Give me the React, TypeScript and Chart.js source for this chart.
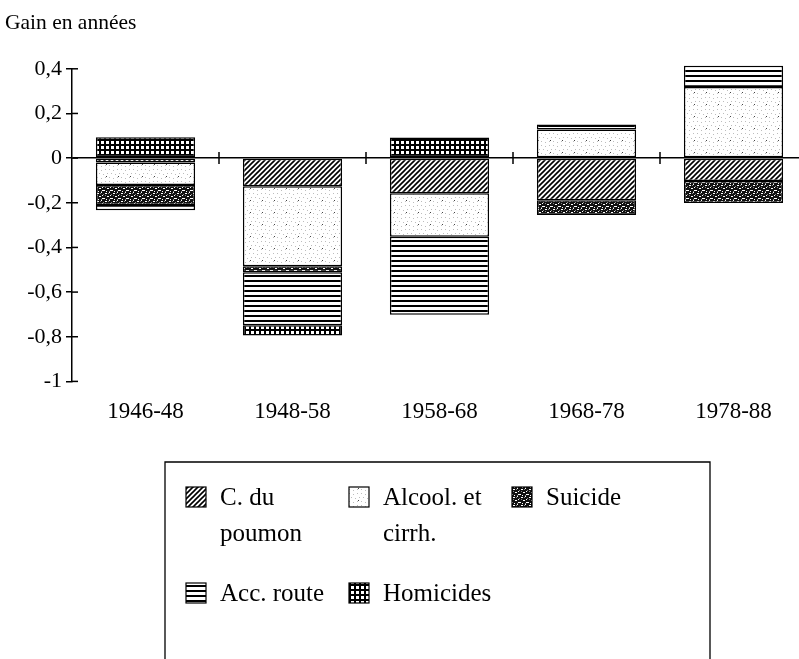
import React, { useEffect, useRef } from 'react';
import { Chart, registerables } from 'chart.js';

Chart.register(...registerables);

const chartTitle = 'Gain en années';
const categories = ['1946-48', '1948-58', '1958-68', '1968-78', '1978-88'];
const seriesNames = ['C. du poumon', 'Alcool. et cirrh.', 'Suicide', 'Acc. route', 'Homicides'];
const legendLines = [['C. du', 'poumon'], ['Alcool. et', 'cirrh.'], ['Suicide'], ['Acc. route'], ['Homicides']];

const cPoumon = [-0.02, -0.126, -0.157, -0.189, -0.103];
const alcool = [-0.1, -0.358, -0.195, 0.128, 0.319];
const suicide = [-0.09, -0.027, null, -0.066, -0.098];
const accRoute = [-0.024, -0.238, -0.35, 0.023, 0.095];
const homicides = [0.093, -0.045, 0.092, null, null];

const yTickValues = [0.4, 0.2, 0, -0.2, -0.4, -0.6, -0.8, -1];
const yTickLabels = ['0,4', '0,2', '0', '-0,2', '-0,4', '-0,6', '-0,8', '-1'];

const FONT = '"Liberation Serif", "Times New Roman", serif';

function tile(w: number, h: number, draw: (c: CanvasRenderingContext2D) => void) {
  const cv = document.createElement('canvas');
  cv.width = w;
  cv.height = h;
  const c = cv.getContext('2d')!;
  draw(c);
  return cv;
}

function makePatterns(ctx: CanvasRenderingContext2D) {
  const hatch = tile(5, 5, (c) => {
    c.fillStyle = '#fff';
    c.fillRect(0, 0, 5, 5);
    c.strokeStyle = '#000';
    c.lineWidth = 1.6;
    c.beginPath();
    c.moveTo(-1, 6); c.lineTo(6, -1);
    c.moveTo(-1, 1); c.lineTo(1, -1);
    c.moveTo(4, 6); c.lineTo(6, 4);
    c.stroke();
  });
  const dots = tile(12, 12, (c) => {
    c.fillStyle = '#fff';
    c.fillRect(0, 0, 12, 12);
    c.fillStyle = '#bdbdbd';
    const pts = [[1, 1], [5, 2], [9, 1], [3, 5], [7, 6], [11, 5], [1, 9], [5, 10], [9, 9]];
    pts.forEach(([x, y]) => c.fillRect(x, y, 1, 1));
    c.fillStyle = '#444';
    c.fillRect(10, 8, 1, 1);
  });
  const speckle = tile(8, 8, (c) => {
    c.fillStyle = '#111';
    c.fillRect(0, 0, 8, 8);
    c.fillStyle = '#fff';
    const pts = [[1, 1], [2, 1], [5, 0], [6, 3], [3, 4], [4, 4], [0, 6], [6, 6], [7, 6], [2, 7]];
    pts.forEach(([x, y]) => c.fillRect(x, y, 1, 1));
    c.fillStyle = '#888';
    [[4, 1], [1, 3], [7, 2], [5, 7]].forEach(([x, y]) => c.fillRect(x, y, 1, 1));
  });
  const hlines = tile(4, 5, (c) => {
    c.fillStyle = '#fff';
    c.fillRect(0, 0, 4, 5);
    c.fillStyle = '#000';
    c.fillRect(0, 0, 4, 2);
  });
  const grid = tile(5, 5, (c) => {
    c.fillStyle = '#000';
    c.fillRect(0, 0, 5, 5);
    c.fillStyle = '#fff';
    c.fillRect(1, 1, 3, 3);
  });
  return [hatch, dots, speckle, hlines, grid].map((t) => ctx.createPattern(t, 'repeat')!);
}

const legendPos = [
  { x: 186, y: 487 },
  { x: 349, y: 487 },
  { x: 512, y: 487 },
  { x: 186, y: 583 },
  { x: 349, y: 583 },
];

export default function App() {
  const ref = useRef<HTMLCanvasElement | null>(null);

  useEffect(() => {
    const canvas = ref.current;
    if (!canvas) return;
    const ctx = canvas.getContext('2d')!;
    const patterns = makePatterns(ctx);
    const values = [cPoumon, alcool, suicide, accRoute, homicides];

    const decor = {
      id: 'decor',
      afterDraw(chart: any) {
        const { ctx: c, scales, chartArea } = chart;
        const x = scales.x;
        const y = scales.y;
        c.save();
        c.strokeStyle = '#000';
        c.lineWidth = 1.5;
        y.ticks.forEach((_t: any, i: number) => {
          const py = y.getPixelForTick(i);
          c.beginPath();
          c.moveTo(chartArea.left, py);
          c.lineTo(chartArea.left + 6, py);
          c.stroke();
        });
        const zy = y.getPixelForValue(0);
        for (let i = 1; i <= categories.length; i++) {
          const px = x.getPixelForValue(i - 0.5);
          c.beginPath();
          c.moveTo(px, zy - 6);
          c.lineTo(px, zy + 6);
          c.stroke();
        }
        const h = chart.height;
        c.lineWidth = 1.3;
        c.beginPath();
        c.moveTo(165, h + 5);
        c.lineTo(165, 462);
        c.lineTo(710, 462);
        c.lineTo(710, h + 5);
        c.stroke();
        c.font = `25px ${FONT}`;
        c.textBaseline = 'middle';
        c.textAlign = 'left';
        legendPos.forEach((p, i) => {
          c.fillStyle = patterns[i];
          c.fillRect(p.x, p.y, 20, 20);
          c.lineWidth = 1.2;
          c.strokeStyle = '#000';
          c.strokeRect(p.x, p.y, 20, 20);
          c.fillStyle = '#000';
          legendLines[i].forEach((line, j) => {
            c.fillText(line, p.x + 34, p.y + 11 + j * 36);
          });
        });
        c.restore();
      },
    };

    const chart = new Chart(canvas, {
      type: 'bar',
      data: {
        labels: categories,
        datasets: seriesNames.map((name, i) => ({
          label: name,
          data: values[i] as any,
          backgroundColor: patterns[i] as any,
          borderColor: '#000',
          borderWidth: 1.5,
          borderSkipped: false,
          barPercentage: 0.675,
          categoryPercentage: 1,
          stack: 's',
          clip: false as any,
        })),
      },
      options: {
        animation: false,
        responsive: false,
        devicePixelRatio: 1,
        layout: { padding: { left: 5, right: 5, top: 0, bottom: 224 } },
        plugins: {
          legend: { display: false },
          tooltip: { enabled: false },
          title: {
            display: true,
            text: chartTitle,
            align: 'start',
            color: '#000',
            font: { family: FONT, size: 21.5, weight: 'normal' },
            padding: { top: 10, bottom: 33 },
          },
        },
        scales: {
          x: {
            stacked: true,
            offset: true,
            grid: { display: false },
            border: { display: false },
            ticks: {
              color: '#000',
              font: { family: FONT, size: 23 },
              padding: 9,
              maxRotation: 0,
            },
          },
          y: {
            stacked: true,
            min: -1,
            max: 0.4,
            afterFit: (s: any) => {
              s.width = 67;
            },
            afterBuildTicks: (s: any) => {
              s.ticks = yTickValues.map((v) => ({ value: v }));
            },
            grid: {
              color: (c: any) => (c.tick && Math.abs(c.tick.value) < 1e-9 ? '#000' : 'rgba(0,0,0,0)'),
              lineWidth: 1.5,
              drawTicks: true,
              tickLength: 6,
              tickColor: '#000',
              tickWidth: 1.5,
            },
            border: { display: true, color: '#000', width: 1.5 },
            ticks: {
              color: '#000',
              font: { family: FONT, size: 22 },
              padding: 4,
              callback: (v: any) => {
                const i = yTickValues.findIndex((t) => Math.abs(t - Number(v)) < 1e-6);
                return i >= 0 ? yTickLabels[i] : '';
              },
            },
          },
        },
      },
      plugins: [decor],
    });

    return () => chart.destroy();
  }, []);

  return (
    <div
      style={{
        position: 'absolute',
        left: 0,
        top: 0,
        width: 799,
        height: 659,
        overflow: 'hidden',
        background: '#fff',
      }}
    >
      <canvas ref={ref} width={812} height={659} style={{ width: 812, height: 659, display: 'block' }} />
    </div>
  );
}
